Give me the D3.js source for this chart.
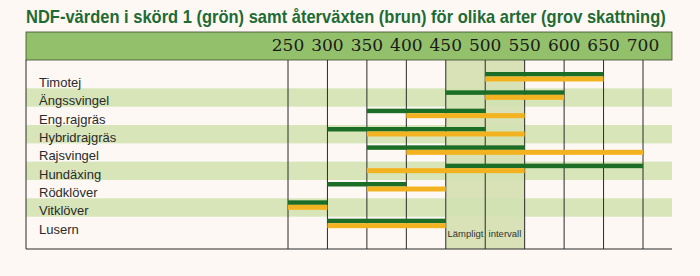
<!DOCTYPE html>
<html>
<head>
<meta charset="utf-8">
<script src="https://cdn.jsdelivr.net/npm/d3@7"></script>
<style>
  body { margin: 0; background: #fdf8f4; }
  svg { display: block; }
</style>
</head>
<body>
<svg id="chart" width="700" height="276"></svg>
<script>
// Data
var species = ["Timotej", "Ängssvingel", "Eng.rajgräs", "Hybridrajgräs", "Rajsvingel",
               "Hundäxing", "Rödklöver", "Vitklöver", "Lusern"];
var firstCut = [[500, 650], [450, 600], [350, 500], [300, 500], [350, 550],
                [450, 700], [300, 400], [250, 300], [300, 450]];   // skörd 1 (grön)
var regrowth = [[500, 650], [500, 600], [400, 550], [350, 550], [400, 700],
                [350, 550], [350, 450], [250, 300], [300, 450]];   // återväxten (brun)
var ticks = [250, 300, 350, 400, 450, 500, 550, 600, 650, 700];
var goodRange = [450, 550];
var title = "NDF-värden i skörd 1 (grön) samt återväxten (brun) för olika arter (grov skattning)";

var svg = d3.select("#chart");
var left = 26, right = 672, headTop = 32, headBottom = 60, bottom = 249;

var x = d3.scaleLinear().domain([250, 700]).range([288, 643]);
var y = d3.scaleBand().domain(species).range([70, 235]);

// title - squeezed horizontally to look condensed
var titleG = svg.append("g");
var titleText = titleG.append("text")
    .attr("x", 0)
    .attr("y", 0)
    .style("font-family", "'Liberation Sans', Arial, sans-serif")
    .style("font-weight", "bold")
    .style("font-size", "17.5px")
    .style("fill", "#1f6b34")
    .text(title);
var titleW = titleText.node().getComputedTextLength();
titleG.attr("transform", "translate(" + left + ",23) scale(" + (640 / titleW) + ",1)");

// suitable interval column
svg.append("rect")
    .attr("x", x(goodRange[0]))
    .attr("y", headBottom)
    .attr("width", x(goodRange[1]) - x(goodRange[0]))
    .attr("height", bottom - headBottom)
    .attr("fill", "#d8e2b6");

// shaded row bands
svg.selectAll(".band")
    .data(species.filter((d, i) => i % 2 === 1))
    .enter().append("rect")
    .attr("class", "band")
    .attr("x", left)
    .attr("y", d => y(d))
    .attr("width", right - left)
    .attr("height", y.bandwidth())
    .attr("fill", "#d3e2b2")
    .attr("opacity", 0.9);

// header
svg.append("rect")
    .attr("x", left)
    .attr("y", headTop)
    .attr("width", right - left)
    .attr("height", headBottom - headTop)
    .attr("fill", "#93c06b")
    .attr("stroke", "#3a4a30")
    .attr("stroke-width", 0.8);

svg.selectAll(".tick-label")
    .data(ticks)
    .enter().append("text")
    .attr("class", "tick-label")
    .attr("x", d => x(d))
    .attr("y", 51)
    .attr("text-anchor", "middle")
    .style("font-family", "'DejaVu Serif', 'Liberation Serif', serif")
    .style("font-size", "17px")
    .style("fill", "#1a1a1a")
    .text(d => d);

// grid lines
svg.selectAll(".grid")
    .data(ticks)
    .enter().append("line")
    .attr("class", "grid")
    .attr("x1", d => x(d))
    .attr("x2", d => x(d))
    .attr("y1", headBottom)
    .attr("y2", bottom)
    .attr("stroke", "#2a2a2a")
    .attr("stroke-width", 1);

// table frame (left + bottom)
svg.append("path")
    .attr("d", "M" + left + "," + headBottom + "V" + bottom + "H" + right)
    .attr("fill", "none")
    .attr("stroke", "#2a2a2a")
    .attr("stroke-width", 1);

// bars: green on top, orange below
svg.selectAll(".bar-green")
    .data(firstCut)
    .enter().append("rect")
    .attr("class", "bar-green")
    .attr("x", d => x(d[0]))
    .attr("y", (d, i) => y(species[i]) + 2)
    .attr("width", d => x(d[1]) - x(d[0]))
    .attr("height", 4.5)
    .attr("fill", "#1c6e27");

svg.selectAll(".bar-orange")
    .data(regrowth)
    .enter().append("rect")
    .attr("class", "bar-orange")
    .attr("x", d => x(d[0]))
    .attr("y", (d, i) => y(species[i]) + 6.5)
    .attr("width", d => x(d[1]) - x(d[0]))
    .attr("height", 5)
    .attr("fill", "#f3b320");

// row labels
svg.selectAll(".row-label")
    .data(species)
    .enter().append("text")
    .attr("class", "row-label")
    .attr("x", 39)
    .attr("y", d => y(d) + 17)
    .style("font-family", "'Liberation Sans', Arial, sans-serif")
    .style("font-size", "13px")
    .style("fill", "#2a2a2a")
    .text(d => d);

// interval note
svg.append("text")
    .attr("x", x(475))
    .attr("y", 237)
    .attr("text-anchor", "middle")
    .style("font-family", "'Liberation Sans', Arial, sans-serif")
    .style("font-size", "9.5px")
    .style("fill", "#333")
    .text("Lämpligt");

svg.append("text")
    .attr("x", x(525))
    .attr("y", 237)
    .attr("text-anchor", "middle")
    .style("font-family", "'Liberation Sans', Arial, sans-serif")
    .style("font-size", "9.5px")
    .style("fill", "#333")
    .text("intervall");
</script>
</body>
</html>
